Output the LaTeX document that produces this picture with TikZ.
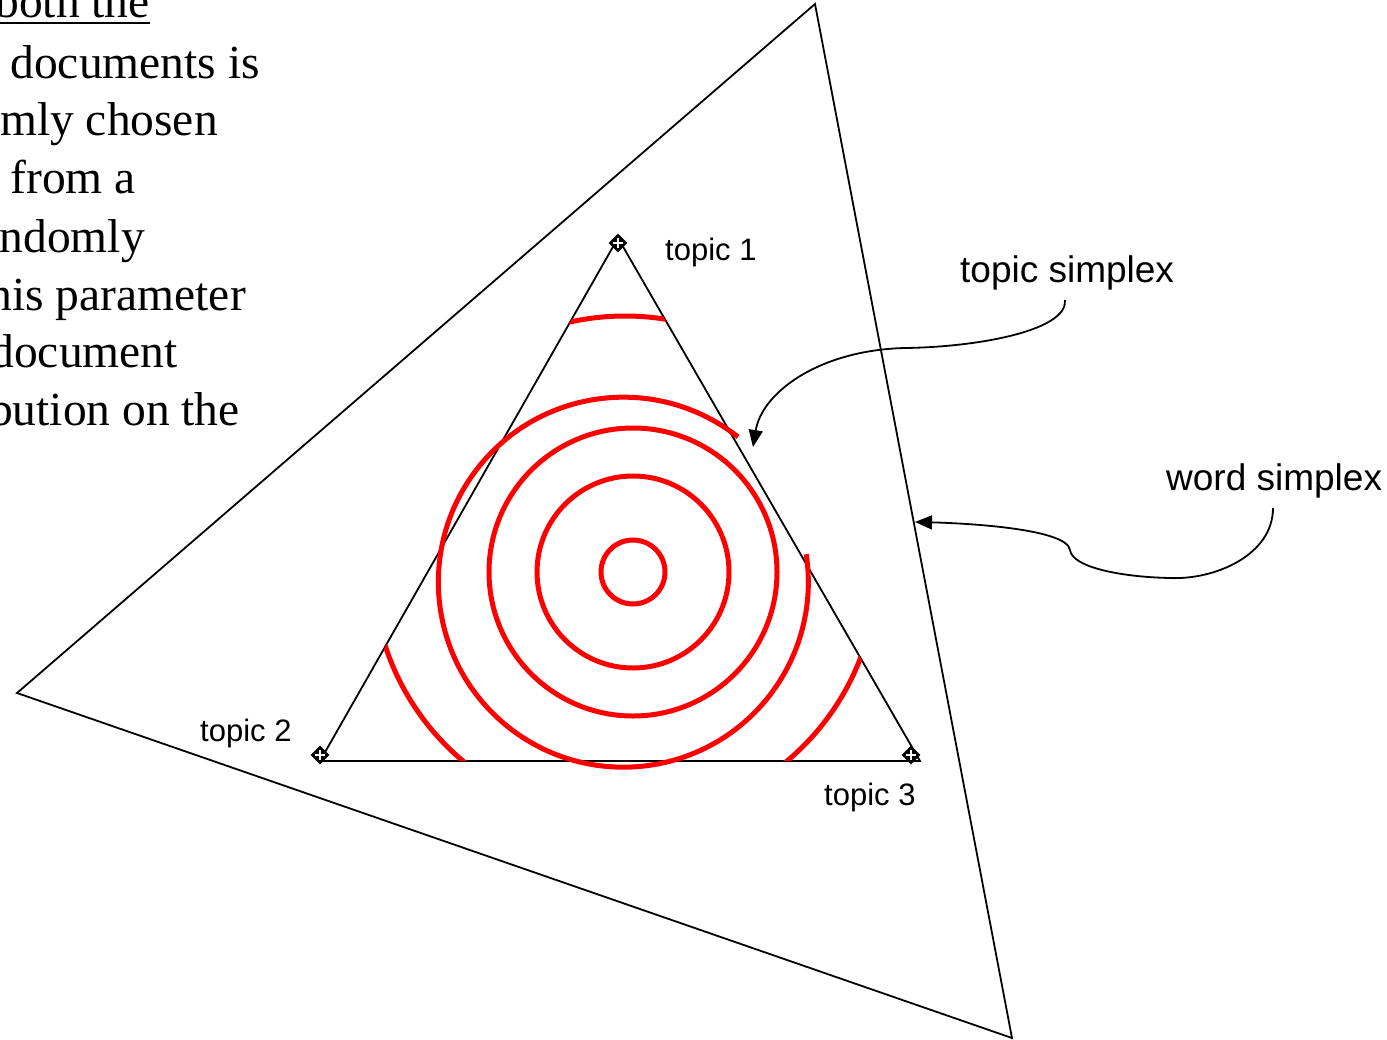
\documentclass[tikz,border=0pt]{standalone}
\usepackage{fontspec}
\setmainfont{Liberation Serif}
\newfontfamily\labfont{Liberation Sans}
\usetikzlibrary{arrows.meta,shapes.geometric}
\begin{document}
\begin{tikzpicture}[x=1pt,y=-1pt,
  edge/.style={line width=1.8pt, black, line join=miter},
  redline/.style={line width=5pt, red},
  lab/.style={font=\labfont\fontsize{31}{37}\selectfont, inner sep=0pt, anchor=base west},
  biglab/.style={font=\labfont\fontsize{37}{44}\selectfont, inner sep=0pt, anchor=base west},
  bodytext/.style={font=\fontsize{47.5}{58}\selectfont, inner sep=0pt, anchor=base east},
  conn/.style={line width=1.8pt, -{Triangle[length=17pt,width=14pt]}},
  marker/.style={diamond, fill=black, inner sep=0pt, minimum size=19pt,
    path picture={\draw[white, line width=1.6pt]
      ([yshift=-5pt]path picture bounding box.center) -- ([yshift=5pt]path picture bounding box.center)
      ([xshift=-5pt]path picture bounding box.center) -- ([xshift=5pt]path picture bounding box.center);}},
]
\useasboundingbox (0,0) rectangle (1387,1039);
\clip (0,0) rectangle (1387,1039);

% body text (clipped at the left edge)
\node[bodytext] (t0) at (150,17) {both the};
\draw[line width=2.5pt] (0,23) -- (150,23);
\node[bodytext] (t1) at (260,78) {documents is};
\node[bodytext] (t2) at (218,135) {mly chosen};
\node[bodytext] (t3) at (136,193) {from a};
\node[bodytext] (t4) at (145,252) {ndomly};
\node[bodytext] (t5) at (246,310) {his parameter};
\node[bodytext] (t6) at (178,367) {document};
\node[bodytext] (t7) at (240,425) {bution on the};

% word simplex (big triangle)
\coordinate (W1) at (815,4);
\coordinate (W2) at (17,693);
\coordinate (W3) at (1012,1038);
\draw[edge] (W1) -- (W2) -- (W3) -- cycle;

% topic simplex (inner triangle)
\coordinate (T1) at (618,238);
\coordinate (T2) at (320,761);
\coordinate (T3) at (920,761);
\draw[edge] (T1) -- (T2) -- (T3) -- cycle;

% red contours
\draw[redline] (633,572) circle[radius=32pt];
\draw[redline] (633,572) circle[radius=96pt];
\draw[redline] (633,572) circle[radius=144pt];
\draw[redline] (738,437) arc[start angle=51.7, end angle=368.7, radius=185pt];
\begin{scope}
  \clip (T1) -- (T2) -- (T3) -- cycle;
  \draw[redline] (625,568) circle[radius=252pt];
\end{scope}

% vertex markers
\node[marker] (m1) at (618,243) {};
\node[marker] (m2) at (320,755) {};
\node[marker] (m3) at (911,755) {};

% labels
\node[lab] (l1) at (665,260) {topic 1};
\node[lab] (l2) at (200,741) {topic 2};
\node[lab] (l3) at (824,805) {topic 3};
\node[biglab] (ts) at (960,282) {topic simplex};
\node[biglab] (ws) at (1166,490) {word simplex};

% connectors
\coordinate (tsA) at (1065,300);
\coordinate (tsB) at (753,447);
\draw[conn] (tsA) .. controls (1068,330) and (980,347) .. (905,348)
  .. controls (820,350) and (762,392) .. (tsB);
\coordinate (wsA) at (1273,508);
\coordinate (wsB) at (915,522);
\draw[conn] (wsA) .. controls (1273,555) and (1215,580) .. (1170,578)
  .. controls (1120,577) and (1072,567) .. (1070,550)
  .. controls (1067,528) and (960,523) .. (wsB);
\end{tikzpicture}
\end{document}
